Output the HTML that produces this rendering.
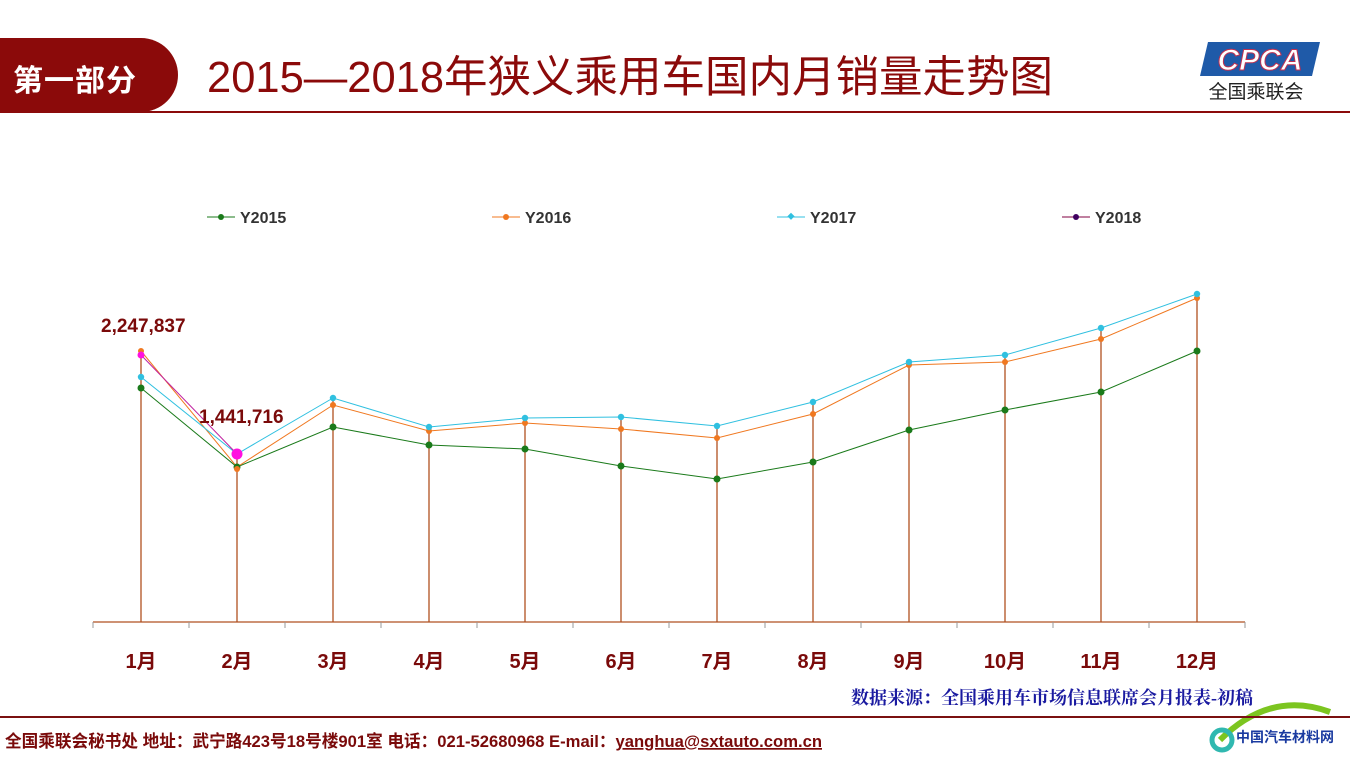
<!DOCTYPE html>
<html><head><meta charset="utf-8"><style>
body{margin:0;width:1350px;height:759px;background:#fff;overflow:hidden;position:relative;font-family:"Liberation Sans","Noto Sans CJK SC",sans-serif}
.tab{position:absolute;left:-20px;top:38px;width:198px;height:74px;background:#8b0a0a;border-radius:0 37px 37px 0}
.tab span{position:absolute;left:33px;top:18px;color:#fff;font-size:30px;font-weight:bold;letter-spacing:1px}
.title{position:absolute;left:207px;top:42px;color:#8b0a0a;font-size:43.5px;white-space:nowrap}
.hl{position:absolute;left:0;top:111px;width:1350px;height:2px;background:#8b0a0a}
.fl{position:absolute;left:0;top:716px;width:1350px;height:2px;background:#7a1010}
</style></head><body>
<div class="tab"><span>第一部分</span></div>
<div class="title">2015—2018年狭义乘用车国内月销量走势图</div>
<div class="hl"></div>
<svg style="position:absolute;left:1196px;top:40px" width="126" height="62">
<polygon points="12,2 124,2 116,36 4,36" fill="#1f5aa8"/>
<text x="64" y="30" text-anchor="middle" font-size="30" font-style="italic" font-weight="bold" fill="#fff" stroke="#c03050" stroke-width="1">CPCA</text>
<text x="60" y="58" text-anchor="middle" font-size="19" fill="#222">全国乘联会</text>
</svg>
<svg style="position:absolute;left:0;top:0" width="1350" height="759">
<g font-size="16" font-weight="bold" fill="#333">
<line x1="207" y1="217" x2="235" y2="217" stroke="#1a7a1a"/><circle cx="221" cy="217" r="3" fill="#1a7a1a"/><text x="240" y="223">Y2015</text>
<line x1="492" y1="217" x2="520" y2="217" stroke="#f07820"/><circle cx="506" cy="217" r="3" fill="#f07820"/><text x="525" y="223">Y2016</text>
<line x1="777" y1="217" x2="805" y2="217" stroke="#30c0e0"/><rect x="788" y="214" width="5" height="5" transform="rotate(45 791 217)" fill="#30c0e0"/><text x="810" y="223">Y2017</text>
<line x1="1062" y1="217" x2="1090" y2="217" stroke="#800040"/><circle cx="1076" cy="217" r="3" fill="#400060"/><text x="1095" y="223">Y2018</text>
</g>
<g stroke="#b05020" stroke-width="1.3">
<line x1="93" y1="622" x2="1245" y2="622"/>
<line x1="141" y1="351" x2="141" y2="622"/><line x1="237" y1="454" x2="237" y2="622"/><line x1="333" y1="398" x2="333" y2="622"/><line x1="429" y1="427" x2="429" y2="622"/><line x1="525" y1="418" x2="525" y2="622"/><line x1="621" y1="417" x2="621" y2="622"/><line x1="717" y1="426" x2="717" y2="622"/><line x1="813" y1="402" x2="813" y2="622"/><line x1="909" y1="362" x2="909" y2="622"/><line x1="1005" y1="355" x2="1005" y2="622"/><line x1="1101" y1="328" x2="1101" y2="622"/><line x1="1197" y1="294" x2="1197" y2="622"/>
</g>
<g stroke="#999" stroke-width="1">
<line x1="93" y1="622" x2="93" y2="628"/><line x1="189" y1="622" x2="189" y2="628"/><line x1="285" y1="622" x2="285" y2="628"/><line x1="381" y1="622" x2="381" y2="628"/><line x1="477" y1="622" x2="477" y2="628"/><line x1="573" y1="622" x2="573" y2="628"/><line x1="669" y1="622" x2="669" y2="628"/><line x1="765" y1="622" x2="765" y2="628"/><line x1="861" y1="622" x2="861" y2="628"/><line x1="957" y1="622" x2="957" y2="628"/><line x1="1053" y1="622" x2="1053" y2="628"/><line x1="1149" y1="622" x2="1149" y2="628"/><line x1="1245" y1="622" x2="1245" y2="628"/>
</g>
<polyline fill="none" stroke="#1a7a1a" stroke-width="1" points="141,388 237,467 333,427 429,445 525,449 621,466 717,479 813,462 909,430 1005,410 1101,392 1197,351"/>
<polyline fill="none" stroke="#f07820" stroke-width="1" points="141,351 237,467 333,405 429,431 525,423 621,429 717,438 813,414 909,365 1005,362 1101,339 1197,298"/>
<polyline fill="none" stroke="#30c0e0" stroke-width="1" points="141,377 237,454 333,398 429,427 525,418 621,417 717,426 813,402 909,362 1005,355 1101,328 1197,294"/>
<polyline fill="none" stroke="#c020a0" stroke-width="1" points="141,355 237,454"/>
<g fill="#1a7a1a"><circle cx="141" cy="388" r="3.5"/><circle cx="237" cy="467" r="3.5"/><circle cx="333" cy="427" r="3.5"/><circle cx="429" cy="445" r="3.5"/><circle cx="525" cy="449" r="3.5"/><circle cx="621" cy="466" r="3.5"/><circle cx="717" cy="479" r="3.5"/><circle cx="813" cy="462" r="3.5"/><circle cx="909" cy="430" r="3.5"/><circle cx="1005" cy="410" r="3.5"/><circle cx="1101" cy="392" r="3.5"/><circle cx="1197" cy="351" r="3.5"/></g>
<g fill="#f07820"><circle cx="141" cy="351" r="3"/><circle cx="237" cy="469" r="3"/><circle cx="333" cy="405" r="3"/><circle cx="429" cy="431" r="3"/><circle cx="525" cy="423" r="3"/><circle cx="621" cy="429" r="3"/><circle cx="717" cy="438" r="3"/><circle cx="813" cy="414" r="3"/><circle cx="909" cy="365" r="3"/><circle cx="1005" cy="362" r="3"/><circle cx="1101" cy="339" r="3"/><circle cx="1197" cy="298" r="3"/></g>
<g fill="#30c0e0"><circle cx="141" cy="377" r="3.2"/><circle cx="333" cy="398" r="3.2"/><circle cx="429" cy="427" r="3.2"/><circle cx="525" cy="418" r="3.2"/><circle cx="621" cy="417" r="3.2"/><circle cx="717" cy="426" r="3.2"/><circle cx="813" cy="402" r="3.2"/><circle cx="909" cy="362" r="3.2"/><circle cx="1005" cy="355" r="3.2"/><circle cx="1101" cy="328" r="3.2"/><circle cx="1197" cy="294" r="3.2"/></g>
<circle cx="141" cy="355" r="3.5" fill="#ff10e0"/><circle cx="237" cy="454" r="5.5" fill="#ff10e0"/>
<g font-size="19" font-weight="bold" fill="#7a0a0a">
<text x="101" y="332">2,247,837</text><text x="199" y="423">1,441,716</text>
</g>
<g font-size="20" font-weight="bold" fill="#7a0a0a" text-anchor="middle">
<text x="141" y="668">1月</text><text x="237" y="668">2月</text><text x="333" y="668">3月</text><text x="429" y="668">4月</text><text x="525" y="668">5月</text><text x="621" y="668">6月</text><text x="717" y="668">7月</text><text x="813" y="668">8月</text><text x="909" y="668">9月</text><text x="1005" y="668">10月</text><text x="1101" y="668">11月</text><text x="1197" y="668">12月</text>
</g>
<text x="1253" y="704" text-anchor="end" font-size="18" font-weight="bold" fill="#1a1aa0" font-family="Liberation Serif,Noto Serif CJK SC,serif">数据来源：全国乘用车市场信息联席会月报表-初稿</text>
<text x="5" y="747" font-size="17" font-weight="bold" fill="#7a0a0a" textLength="817" lengthAdjust="spacingAndGlyphs">全国乘联会秘书处  地址：武宁路423号18号楼901室    电话：021-52680968  E-mail：<tspan text-decoration="underline">yanghua@sxtauto.com.cn</tspan></text>
<path d="M1220 740 Q1270 690 1330 712" stroke="#7cc520" stroke-width="6" fill="none"/>
<circle cx="1222" cy="740" r="10" fill="none" stroke="#30b8b0" stroke-width="5"/>
<text x="1236" y="742" font-size="14" font-weight="bold" fill="#1a3aa0">中国汽车材料网</text>
</svg>
<div class="fl"></div>
</body></html>
